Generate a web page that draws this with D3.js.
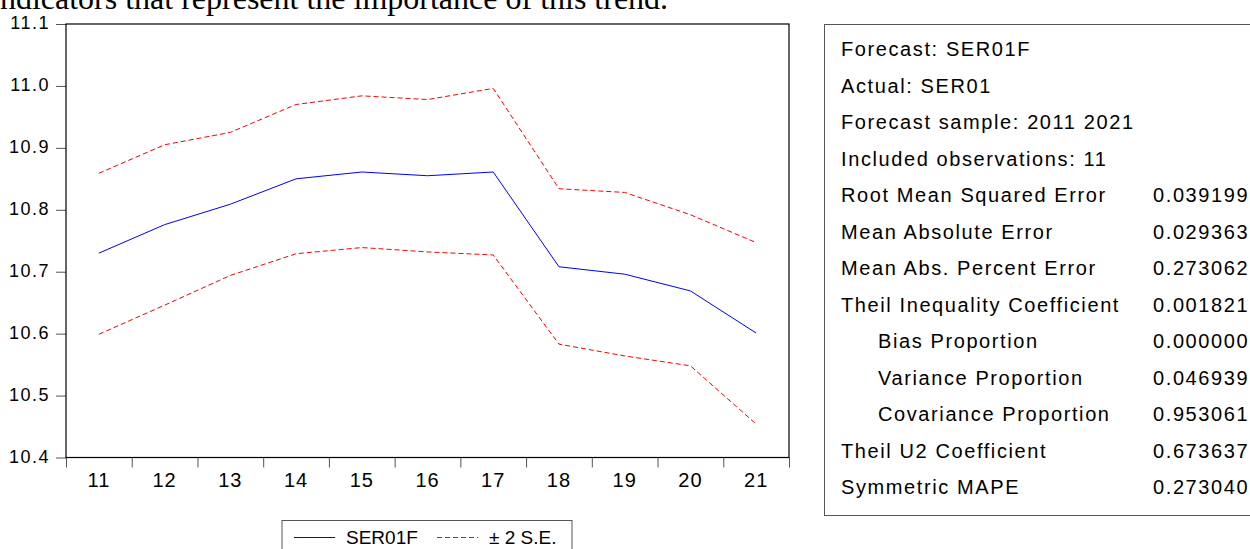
<!DOCTYPE html>
<html>
<head>
<meta charset="utf-8">
<script src="https://cdn.jsdelivr.net/npm/d3@7"></script>
<style>
  body { margin: 0; background: #fff; overflow: hidden; }
  svg { display: block; }
  .axis text { font-family: "Liberation Sans", Arial, sans-serif; fill: #000; }
  .axis path { display: none; }
  .axis line { stroke: #555; }
</style>
</head>
<body>
<div id="chart"></div>
<script>
// forecast years (2011..2021, shown as two digits)
const years = ["11", "12", "13", "14", "15", "16", "17", "18", "19", "20", "21"];
const ser01f = [10.730, 10.776, 10.809, 10.850, 10.861, 10.855, 10.861, 10.708, 10.696, 10.669, 10.601];
const upperBand = [10.859, 10.905, 10.925, 10.970, 10.984, 10.978, 10.996, 10.834, 10.828, 10.792, 10.747];
const lowerBand = [10.599, 10.646, 10.694, 10.729, 10.739, 10.732, 10.727, 10.583, 10.564, 10.548, 10.454];
const yTicks = [10.4, 10.5, 10.6, 10.7, 10.8, 10.9, 11.0, 11.1];

const headerLines = ["Forecast: SER01F", "Actual: SER01", "Forecast sample: 2011 2021", "Included observations: 11"];
const statNames = ["Root Mean Squared Error", "Mean Absolute Error", "Mean Abs. Percent Error",
    "Theil Inequality Coefficient", "Bias Proportion", "Variance Proportion", "Covariance Proportion",
    "Theil U2 Coefficient", "Symmetric MAPE"];
const statValues = ["0.039199", "0.029363", "0.273062", "0.001821", "0.000000", "0.046939", "0.953061",
    "0.673637", "0.273040"];
const subRows = ["Bias Proportion", "Variance Proportion", "Covariance Proportion"];

const legendItems = ["SER01F", "\u00b1 2 S.E."];

const W = 1250, H = 549;
const plot = {left: 66, right: 789, top: 24, bottom: 457.5};

const svg = d3.select("#chart")
    .append("svg")
    .attr("width", W)
    .attr("height", H);

// cut-off line of the surrounding document text
svg.append("text")
    .attr("x", -9)
    .attr("y", 8.5)
    .style("font-family", "'Liberation Serif', 'Times New Roman', serif")
    .style("font-size", "32px")
    .text("indicators that represent the importance of this trend.");

const x = d3.scaleBand().domain(years).range([plot.left, plot.right]);
const xEdges = d3.scaleLinear().domain([0, years.length]).range([plot.left, plot.right]);
const y = d3.scaleLinear().domain([10.4, 11.1]).range([plot.bottom, plot.top]);

const cx = (d, i) => x(years[i]) + x.bandwidth() / 2;

// y axis
svg.append("g")
    .attr("class", "axis")
    .attr("transform", `translate(${plot.left},0)`)
    .call(d3.axisLeft(y).tickValues(yTicks).tickSize(10).tickPadding(6).tickFormat(d3.format(".1f")))
    .selectAll("text")
    .style("font-size", "18px")
    .style("letter-spacing", "1.5px")
    .attr("dy", "0.25em");

// x axis: ticks on the band edges, labels on the band centres
svg.append("g")
    .attr("class", "axis")
    .attr("transform", `translate(0,${plot.bottom})`)
    .call(d3.axisBottom(xEdges).tickValues(d3.range(0, years.length + 1)).tickSize(10).tickFormat(""));

svg.append("g")
    .attr("class", "axis")
    .attr("transform", `translate(0,${plot.bottom})`)
    .call(d3.axisBottom(x).tickSize(0).tickPadding(15))
    .selectAll("text")
    .style("font-size", "20px")
    .style("letter-spacing", "1px")
    .attr("dy", "0.72em");

// frame
svg.append("rect")
    .attr("x", plot.left)
    .attr("y", plot.top)
    .attr("width", plot.right - plot.left)
    .attr("height", plot.bottom - plot.top)
    .attr("fill", "none")
    .attr("stroke", "#000")
    .attr("stroke-width", 1.2);

const line = d3.line()
    .x(cx)
    .y(d => y(d));

svg.append("path")
    .datum(upperBand)
    .attr("d", line)
    .attr("fill", "none")
    .attr("stroke", "#ff0000")
    .attr("stroke-width", 1)
    .attr("stroke-dasharray", "5,3");

svg.append("path")
    .datum(lowerBand)
    .attr("d", line)
    .attr("fill", "none")
    .attr("stroke", "#ff0000")
    .attr("stroke-width", 1)
    .attr("stroke-dasharray", "5,3");

svg.append("path")
    .datum(ser01f)
    .attr("d", line)
    .attr("fill", "none")
    .attr("stroke", "#0000ff")
    .attr("stroke-width", 1);

// legend
const legend = svg.append("g").attr("transform", "translate(282,520.5)");
legend.append("rect")
    .attr("width", 290)
    .attr("height", 40)
    .attr("fill", "#fff")
    .attr("stroke", "#555");

const legendX = [12, 155];
legend.selectAll(".lg-line")
    .data(legendItems)
    .enter()
    .append("line")
    .attr("class", "lg-line")
    .attr("x1", (d, i) => legendX[i])
    .attr("x2", (d, i) => legendX[i] + 41)
    .attr("y1", 17)
    .attr("y2", 17)
    .attr("stroke", (d, i) => i === 0 ? "#0000ff" : "#ff0000")
    .attr("stroke-dasharray", (d, i) => i === 0 ? null : "5,3");

legend.selectAll(".lg-text")
    .data(legendItems)
    .enter()
    .append("text")
    .attr("class", "lg-text")
    .attr("x", (d, i) => legendX[i] + 52)
    .attr("y", 23)
    .style("font-family", "'Liberation Sans', Arial, sans-serif")
    .style("font-size", "19px")
    .text(d => d);

// statistics box
const table = svg.append("g");
table.append("rect")
    .attr("x", 824.5)
    .attr("y", 24.5)
    .attr("width", 500)
    .attr("height", 491)
    .attr("fill", "none")
    .attr("stroke", "#555");

const rowY = i => 56 + i * 36.5;
const allRows = headerLines.map(t => ({label: t, value: ""}))
    .concat(statNames.map((t, i) => ({label: t, value: statValues[i]})));

const rows = table.selectAll(".row")
    .data(allRows)
    .enter()
    .append("g")
    .attr("class", "row")
    .style("font-family", "'Liberation Sans', Arial, sans-serif")
    .style("font-size", "20px")
    .style("letter-spacing", "1.6px");

rows.append("text")
    .attr("x", d => subRows.includes(d.label) ? 878 : 841)
    .attr("y", (d, i) => rowY(i))
    .text(d => d.label);

rows.append("text")
    .attr("x", 1153)
    .attr("y", (d, i) => rowY(i))
    .text(d => d.value);
</script>
</body>
</html>
